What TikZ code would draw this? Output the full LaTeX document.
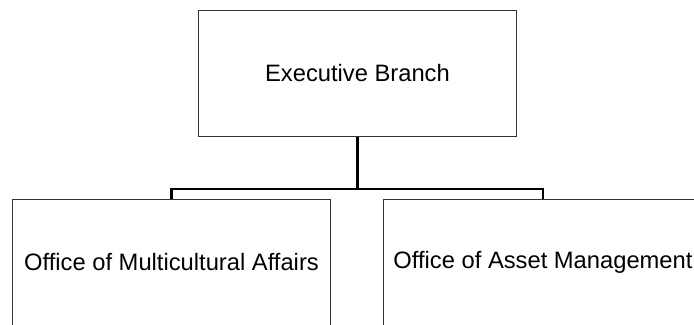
\documentclass[tikz,border=0pt]{standalone}
\usepackage{fontspec}
\setmainfont{Liberation Sans}
\usetikzlibrary{positioning}

\tikzset{
  unitbox/.style={draw=black!80,line width=0.75pt,fill=white,
    minimum width=239pt,minimum height=94.5pt,inner sep=0pt,
    font=\fontsize{17.8}{21}\selectfont},
  link/.style={line width=1.9pt,black}
}

\begin{document}
\begin{tikzpicture}[x=0.75pt,y=-0.75pt]
    % page frame
    \useasboundingbox (0,0) rectangle (694,325);
    \clip (0,0) rectangle (694,325);

    % top unit
    \node[unitbox] (exec) at (357.5,73) {Executive Branch};

    % offices
    \node[unitbox] (multi) at (171.5,262) {Office of Multicultural Affairs};
    \node[unitbox] (asset) at (543,262) {Office of Asset Management};

    % connectors
    \coordinate (bus) at (357.5,189);
    \draw[link] (exec.south) -- (bus);
    \draw[link] (multi.north) -- (multi.north |- bus) -- (asset.north |- bus) -- (asset.north);
\end{tikzpicture}
\end{document}
